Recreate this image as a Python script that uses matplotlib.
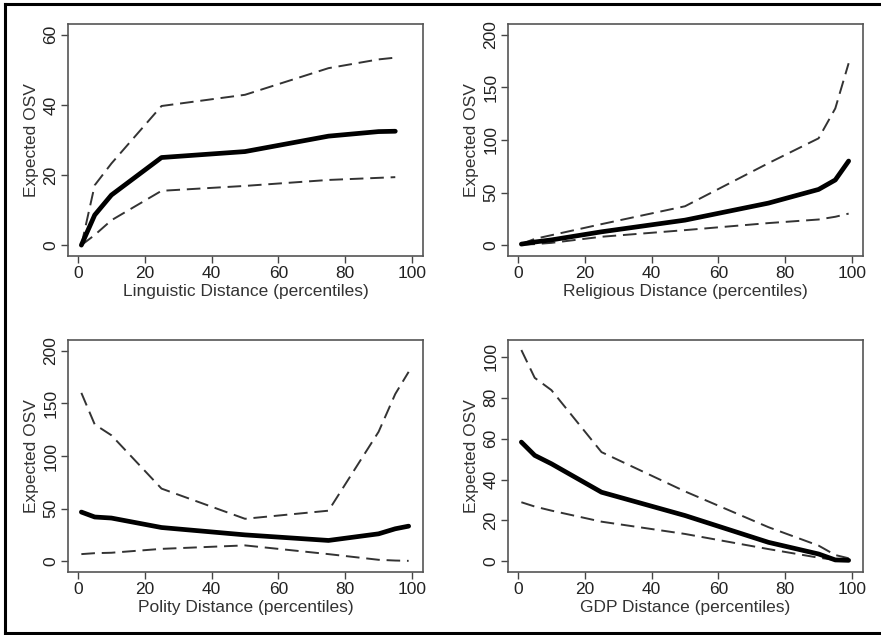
import matplotlib
matplotlib.use("Agg")
import matplotlib.pyplot as plt
from matplotlib.lines import Line2D

plt.rcParams['font.family'] = ['Liberation Sans', 'DejaVu Sans']

pct = [1, 5, 10, 25, 50, 75, 90, 95, 99]
pct_ling = [1, 5, 10, 25, 50, 75, 90, 95]

ling_mean = [0, 8.6, 14.3, 25.0, 26.7, 31.1, 32.4, 32.5]
ling_hi = [0, 17.1, 23.3, 39.7, 42.9, 50.5, 53.0, 53.5]
ling_lo = [0, 2.9, 7.1, 15.5, 16.9, 18.6, 19.2, 19.4]

rel_mean = [1, 3, 5, 12.7, 23.8, 40, 53, 62, 80]
rel_hi = [1, 6, 9.5, 20, 37, 78, 101.6, 130, 173]
rel_lo = [0.5, 1, 2.2, 8, 14.3, 21, 24.4, 27, 30]

pol_mean = [46.7, 42, 41, 32, 25, 19.7, 26, 30.8, 33.3]
pol_hi = [160, 130, 119.7, 69, 40.3, 48, 123, 159, 180]
pol_lo = [6.7, 7.6, 8, 11.7, 15, 6.7, 1.3, 0.6, 0.3]

gdp_mean = [58.3, 51.8, 47.7, 33.8, 22.4, 9.3, 3.6, 0.7, 0.5]
gdp_hi = [103.3, 89.7, 83.7, 53.4, 34.2, 16.7, 7.7, 3.1, 1.5]
gdp_lo = [28.9, 26.8, 24.8, 19.4, 13.4, 6.0, 1.8, 0.7, 0.3]

panels = [
    ("Linguistic Distance (percentiles)", pct_ling, ling_mean, ling_hi, ling_lo, [0, 20, 40, 60], (-3.1, 63.1)),
    ("Religious Distance (percentiles)", pct, rel_mean, rel_hi, rel_lo, [0, 50, 100, 150, 200], (-10.3, 210.3)),
    ("Polity Distance (percentiles)", pct, pol_mean, pol_hi, pol_lo, [0, 50, 100, 150, 200], (-10.3, 210.3)),
    ("GDP Distance (percentiles)", pct, gdp_mean, gdp_hi, gdp_lo, [0, 20, 40, 60, 80, 100], (-5.2, 108.2)),
]

W, H = 881, 635
fig = plt.figure(figsize=(W / 100, H / 100), dpi=100)

# outer frame (left, top, bottom)
for xs, ys in [([5 / W, 5 / W], [1 - 3.5 / H, 1 - 633 / H]),
               ([5 / W, 1], [1 - 3.5 / H, 1 - 3.5 / H]),
               ([5 / W, 1], [1 - 633 / H, 1 - 633 / H])]:
    fig.add_artist(Line2D(xs, ys, color="black", lw=2.2, transform=fig.transFigure))

boxes = [(68, 24), (508, 24), (68, 340), (508, 340)]
aw, ah = 355, 232
fs = 12.5

for (label, x, mean, hi, lo, yticks, ylim), (bx, by) in zip(panels, boxes):
    ax = fig.add_axes([bx / W, 1 - (by + ah) / H, aw / W, ah / H])
    ax.plot(x, hi, color="#333333", lw=1.4, dashes=(7, 3.5))
    ax.plot(x, lo, color="#333333", lw=1.4, dashes=(7, 3.5))
    ax.plot(x, mean, color="black", lw=3.4, solid_capstyle="round", solid_joinstyle="round")
    ax.set_xlim(-3, 103.3)
    ax.set_ylim(*ylim)
    ax.set_xticks([0, 20, 40, 60, 80, 100])
    ax.set_yticks(yticks)
    ax.tick_params(direction="out", length=5, width=1, color="#444444", labelsize=fs, pad=2,
                   labelcolor="#222222")
    for lab in ax.get_yticklabels():
        lab.set_rotation(90)
        lab.set_va("center")
    ax.set_xlabel(label, fontsize=fs, labelpad=2.5, color="#333333")
    ax.set_ylabel("Expected OSV", fontsize=fs, labelpad=3, color="#333333")
    for sp in ax.spines.values():
        sp.set_color("#555555")
        sp.set_linewidth(1.2)

fig.savefig("out.png", dpi=100, facecolor="white")
